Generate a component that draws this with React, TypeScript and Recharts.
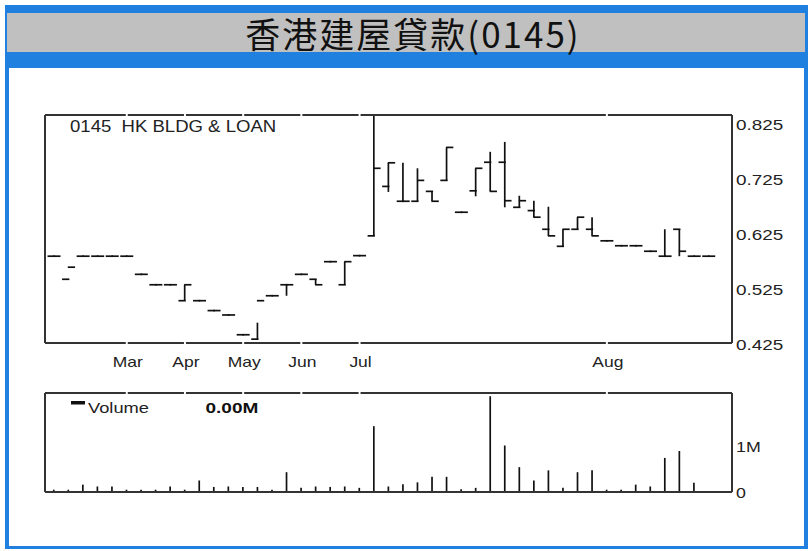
import React from "react";
import { ComposedChart, Bar, Scatter, XAxis, YAxis } from "recharts";

// weekly bars
const OPEN = [
  0.583, 0.541, 0.583, 0.583, 0.583, 0.583, 0.55, 0.531, 0.531, 0.502,
  0.502, 0.484, 0.476, 0.44, 0.432, 0.511, 0.531, 0.55, 0.541, 0.573,
  0.531, 0.584, 0.62, 0.71, 0.683, 0.683, 0.701, 0.721, 0.663, 0.702,
  0.754, 0.754, 0.672, 0.666, 0.632, 0.601, 0.632, 0.632, 0.611, 0.602,
  0.602, 0.592, 0.583, 0.632, 0.583, 0.583,
];
const HIGH = [
  0.583, 0.563, 0.583, 0.583, 0.583, 0.583, 0.55, 0.531, 0.531, 0.531,
  0.502, 0.484, 0.476, 0.44, 0.462, 0.511, 0.531, 0.55, 0.541, 0.573,
  0.573, 0.584, 0.84, 0.753, 0.753, 0.743, 0.701, 0.781, 0.663, 0.743,
  0.773, 0.791, 0.693, 0.684, 0.673, 0.632, 0.654, 0.654, 0.611, 0.602,
  0.602, 0.592, 0.632, 0.632, 0.583, 0.583,
];
const LOW = [
  0.583, 0.563, 0.583, 0.583, 0.583, 0.583, 0.55, 0.531, 0.531, 0.502,
  0.502, 0.484, 0.476, 0.44, 0.432, 0.511, 0.511, 0.55, 0.531, 0.573,
  0.531, 0.584, 0.62, 0.7, 0.683, 0.683, 0.683, 0.721, 0.663, 0.692,
  0.701, 0.672, 0.672, 0.654, 0.62, 0.601, 0.632, 0.62, 0.611, 0.602,
  0.602, 0.592, 0.583, 0.583, 0.583, 0.583,
];
const CLOSE = [
  0.583, 0.563, 0.583, 0.583, 0.583, 0.583, 0.55, 0.531, 0.531, 0.531,
  0.502, 0.484, 0.476, 0.44, 0.502, 0.511, 0.531, 0.55, 0.531, 0.573,
  0.573, 0.584, 0.743, 0.753, 0.683, 0.721, 0.683, 0.781, 0.663, 0.743,
  0.701, 0.684, 0.684, 0.654, 0.62, 0.632, 0.654, 0.62, 0.611, 0.602,
  0.602, 0.592, 0.583, 0.592, 0.583, 0.583,
];
// volume in millions
const VOLUME = [
  0.05, 0.05, 0.16, 0.12, 0.12, 0.05, 0.05, 0.05, 0.12, 0.05,
  0.25, 0.11, 0.12, 0.11, 0.11, 0.05, 0.43, 0.09, 0.12, 0.11,
  0.12, 0.09, 1.43, 0.12, 0.17, 0.21, 0.33, 0.33, 0.06, 0.09,
  2.08, 1.01, 0.54, 0.25, 0.47, 0.09, 0.43, 0.47, 0.05, 0.05,
  0.16, 0.12, 0.74, 0.89, 0.2, 0,
];

const MONTH_IDX = [5, 9, 13, 17, 21, 38];
const MONTH_LABELS = ["Mar", "Apr", "May", "Jun", "Jul", "Aug"];
const PRICE_TICKS = [0.425, 0.525, 0.625, 0.725, 0.825];
const VOL_TICKS = [0, 1];
const VOL_LABELS = ["0", "1M"];

const X_DOMAIN = [-0.62, 46.6];
const FRAME = "#333";
const INK = "#111";
const FONT = "'Liberation Sans', Arial, sans-serif";

const priceData = OPEN.map((o, i) => ({
  i,
  o,
  c: CLOSE[i],
  hl: [LOW[i], HIGH[i]],
}));
const volData = VOLUME.map((v, i) => ({ i, v }));

function HLShape(props: any) {
  const { x, y, width, height } = props;
  if (!height || height < 0.5) return null;
  const cx = x + width / 2;
  return <line x1={cx} x2={cx} y1={y} y2={y + height} stroke={INK} strokeWidth={1.7} />;
}

function OpenShape(props: any) {
  const { cx, cy } = props;
  return <line x1={cx - 6.5} x2={cx + 0.8} y1={cy} y2={cy} stroke={INK} strokeWidth={1.7} />;
}

function CloseShape(props: any) {
  const { cx, cy } = props;
  return <line x1={cx - 0.8} x2={cx + 6.5} y1={cy} y2={cy} stroke={INK} strokeWidth={1.7} />;
}

function VolShape(props: any) {
  const { x, y, width, height } = props;
  if (!height) return null;
  const cx = x + width / 2;
  return <line x1={cx} x2={cx} y1={y} y2={y + height} stroke={INK} strokeWidth={1.7} />;
}

function GapTick(props: any) {
  const { x, y } = props;
  return <rect x={x - 1} y={y - 2} width={2} height={4} fill="#fff" />;
}

function MonthTick(props: any) {
  const { x, y, payload } = props;
  const label = MONTH_LABELS[MONTH_IDX.indexOf(payload.value)];
  return (
    <g>
      <rect x={x - 1} y={y - 2} width={2} height={4} fill="#fff" />
      <text
        transform={`translate(${x + 1},${y + 24}) scale(1.25,1)`}
        textAnchor="middle"
        fontSize={14}
        fontFamily={FONT}
        fill="#222"
      >
        {label}
      </text>
    </g>
  );
}

function PriceTick(props: any) {
  const { x, y, payload } = props;
  return (
    <text
      transform={`translate(${x + 4},${y + 7}) scale(1.35,1)`}
      fontSize={14}
      fontFamily={FONT}
      fill="#222"
    >
      {Number(payload.value).toFixed(3)}
    </text>
  );
}

function VolTick(props: any) {
  const { x, y, payload } = props;
  return (
    <text
      transform={`translate(${x + 4},${y + 6}) scale(1.27,1)`}
      fontSize={14}
      fontFamily={FONT}
      fill="#222"
    >
      {VOL_LABELS[VOL_TICKS.indexOf(payload.value)]}
    </text>
  );
}

const axisLine = { stroke: FRAME, strokeWidth: 2 };

export default function App() {
  return (
    <div style={{ position: "absolute", left: 0, top: 0, width: 809, height: 551, background: "#fff", overflow: "hidden" }}>
      <div style={{ position: "absolute", left: 5, top: 5, width: 803, height: 544, background: "#1f80e0" }} />
      <div
        style={{
          position: "absolute",
          left: 7,
          top: 13,
          width: 798,
          height: 39,
          background: "#c0c0c0",
          textAlign: "center",
          lineHeight: "39px",
          fontSize: 35,
          letterSpacing: 2,
          fontFamily: "'Noto Sans CJK TC', sans-serif",
          color: "#111",
          paddingLeft: 14,
          boxSizing: "border-box",
          whiteSpace: "nowrap",
        }}
      >
        香港建屋貸款(0145)
      </div>
      <div style={{ position: "absolute", left: 9, top: 68, width: 795, height: 478, background: "#fff" }} />

      <div style={{ position: "absolute", left: 0, top: 0 }}>
        <ComposedChart width={809} height={380} data={priceData} margin={{ top: 114, right: 17, bottom: 7, left: 44 }}>
          <XAxis
            xAxisId="top"
            orientation="top"
            type="number"
            dataKey="i"
            domain={X_DOMAIN}
            ticks={MONTH_IDX}
            interval={0}
            height={1}
            tickLine={false}
            tickSize={0}
            tickMargin={0}
            axisLine={axisLine}
            tick={<GapTick />}
          />
          <XAxis
            type="number"
            dataKey="i"
            domain={X_DOMAIN}
            ticks={MONTH_IDX}
            interval={0}
            height={30}
            tickLine={false}
            tickSize={0}
            tickMargin={0}
            axisLine={axisLine}
            tick={<MonthTick />}
          />
          <YAxis
            orientation="right"
            domain={[0.425, 0.84]}
            ticks={PRICE_TICKS}
            interval={0}
            width={60}
            tickLine={false}
            tickSize={0}
            tickMargin={0}
            axisLine={axisLine}
            tick={<PriceTick />}
          />
          <YAxis yAxisId="l" orientation="left" width={1} domain={[0, 1]} tick={false} tickLine={false} axisLine={axisLine} />
          <Bar dataKey="hl" barSize={2} shape={HLShape} isAnimationActive={false} />
          <Scatter dataKey="o" shape={OpenShape} isAnimationActive={false} />
          <Scatter dataKey="c" shape={CloseShape} isAnimationActive={false} />
        </ComposedChart>
      </div>

      <div style={{ position: "absolute", left: 0, top: 380 }}>
        <ComposedChart width={809} height={130} data={volData} margin={{ top: 12, right: 17, bottom: 17, left: 44 }}>
          <XAxis
            xAxisId="top"
            orientation="top"
            type="number"
            dataKey="i"
            domain={X_DOMAIN}
            ticks={MONTH_IDX}
            interval={0}
            height={1}
            tickLine={false}
            tickSize={0}
            tickMargin={0}
            axisLine={axisLine}
            tick={<GapTick />}
          />
          <XAxis type="number" dataKey="i" domain={X_DOMAIN} height={1} tick={false} tickLine={false} axisLine={axisLine} />
          <YAxis
            orientation="right"
            domain={[0, 2.15]}
            ticks={VOL_TICKS}
            interval={0}
            width={60}
            tickLine={false}
            tickSize={0}
            tickMargin={0}
            axisLine={axisLine}
            tick={<VolTick />}
          />
          <YAxis yAxisId="l" orientation="left" width={1} domain={[0, 1]} tick={false} tickLine={false} axisLine={axisLine} />
          <Bar dataKey="v" barSize={2} shape={VolShape} isAnimationActive={false} />
        </ComposedChart>
      </div>

      <svg width={809} height={551} style={{ position: "absolute", left: 0, top: 0, pointerEvents: "none" }}>
        <text
          transform="translate(70,131.5) scale(1.16,1)"
          fontSize={16}
          fontFamily={FONT}
          fill="#222"
          style={{ whiteSpace: "pre" }}
        >
          {"0145  HK BLDG & LOAN"}
        </text>
        <rect x={71} y={401} width={14} height={3.5} fill={INK} />
        <text transform="translate(88,413) scale(1.22,1)" fontSize={15} fontFamily={FONT} fill="#222">
          Volume
        </text>
        <text transform="translate(205.5,413) scale(1.27,1)" fontSize={15} fontWeight="bold" fontFamily={FONT} fill="#111">
          0.00M
        </text>
      </svg>
    </div>
  );
}
